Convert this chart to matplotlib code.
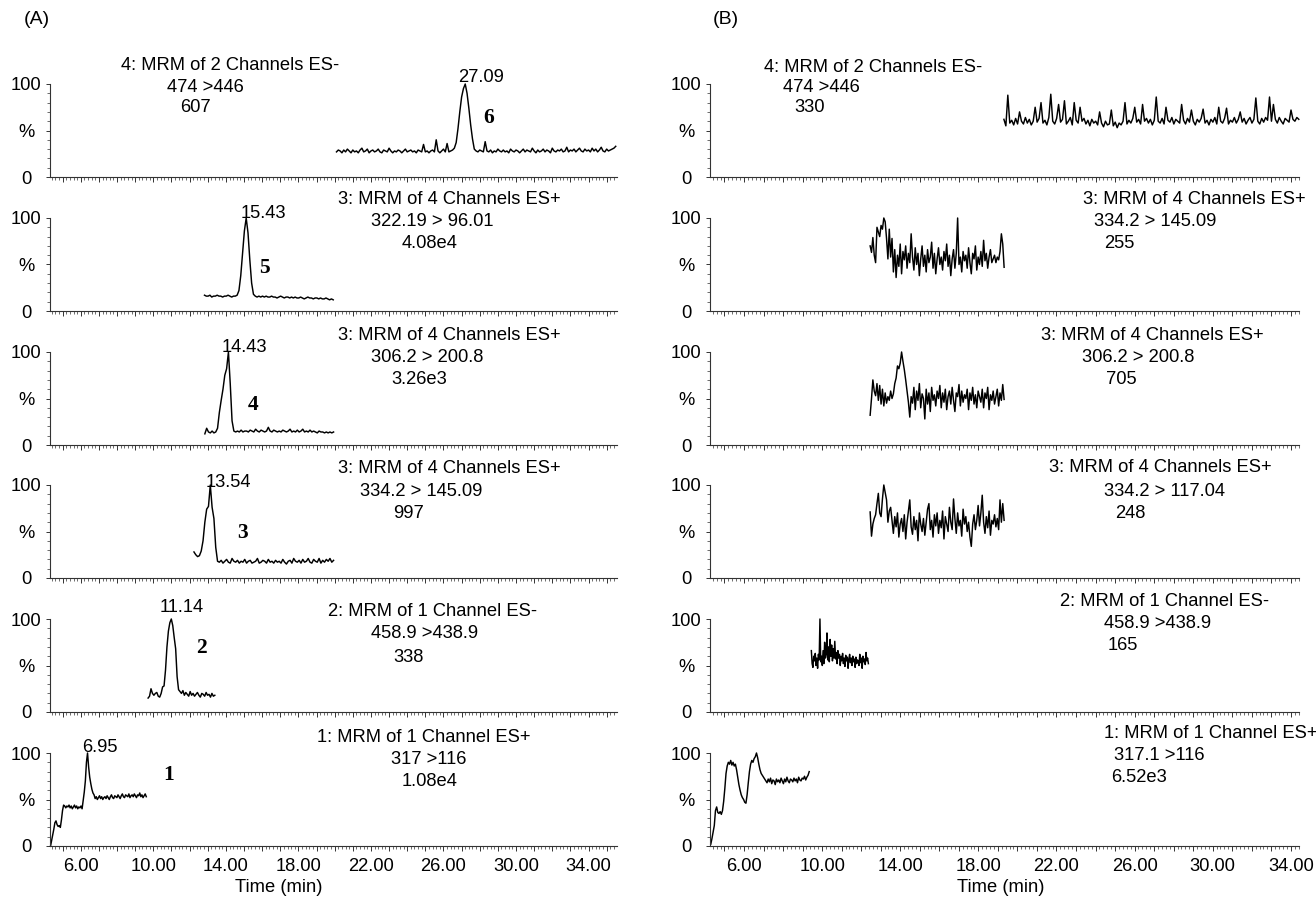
import numpy as np
import matplotlib
matplotlib.use("Agg")
import matplotlib.pyplot as plt
from matplotlib.ticker import MultipleLocator, FixedFormatter, FixedLocator

plt.rcParams['font.family'] = ['Liberation Sans', 'DejaVu Sans']

# ---------------- data: chromatogram traces (relative intensity, %) ----------------
# each trace: start time (min), sampling step (min), intensity values

# column A, top to bottom
A1_T0, A1_DT = 20.1, 0.1
A1_Y = [27, 29, 28, 26, 29, 27, 30, 28, 26, 29, 27, 28, 26, 29, 31, 27, 28, 30, 26, 28,
        29, 27, 28, 30, 27, 26, 29, 28, 27, 31, 28, 26, 28, 27, 29, 28, 26, 28, 30, 27,
        28, 29, 27, 28, 26, 29, 28, 27, 35, 27, 28, 26, 28, 29, 27, 40, 28, 26, 28, 30,
        27, 36, 27, 28, 29, 31, 37, 52, 70, 86, 95, 100, 90, 74, 56, 41, 30, 28, 27, 29,
        28, 27, 38, 28, 27, 29, 26, 28, 27, 30, 28, 27, 29, 27, 28, 26, 30, 28, 27, 29,
        28, 26, 28, 30, 27, 29, 28, 27, 31, 28, 26, 29, 27, 28, 30, 27, 29, 28, 26, 31,
        28, 27, 29, 28, 30, 27, 28, 32, 27, 29, 28, 30, 27, 29, 31, 28, 27, 30, 28, 29,
        27, 31, 28, 30, 27, 29, 32, 28, 27, 30, 28, 29, 30, 31, 33]

A2_T0, A2_DT = 12.82, 0.1
A2_Y = [17, 16, 16, 17, 15, 16, 16, 17, 16, 16, 15, 16, 16, 17, 16, 15, 16, 16, 17,
        22, 38, 62, 86, 100, 84, 55, 30, 18, 16, 15, 16, 15, 16, 15, 16, 15, 15, 16, 15,
        15, 14, 15, 16, 15, 14, 15, 15, 14, 15, 14, 15, 14, 14, 15, 14, 13, 14, 15, 14,
        14, 13, 14, 14, 13, 14, 13, 13, 14, 13, 12, 13, 12]

A3_T0, A3_DT = 12.84, 0.1
A3_Y = [12, 18, 14, 13, 15, 13, 14, 18, 35, 48, 60, 75, 82, 100, 66, 26, 15,
        14, 15, 14, 16, 14, 15, 15, 14, 16, 15, 14, 17, 15, 14, 16, 15, 14, 15, 19, 15,
        14, 16, 15, 14, 15, 14, 16, 15, 14, 15, 17, 14, 15, 14, 16, 14, 15, 17, 14, 15,
        14, 16, 14, 15, 14, 13, 15, 14, 14, 13, 14, 13, 14, 13, 14]

A4_T0, A4_DT = 12.24, 0.1
A4_Y = [28, 25, 23, 24, 29, 40, 60, 74, 77, 100, 76, 64, 33, 18,
        17, 19, 16, 18, 20, 17, 16, 21, 18, 17, 19, 16, 18, 17, 20, 16, 18, 19, 16, 17,
        18, 21, 16, 17, 19, 18, 16, 20, 17, 18, 16, 19, 17, 18, 16, 20, 17, 15, 18, 19,
        16, 21, 18, 17, 19, 16, 20, 17, 18, 21, 17, 16, 20, 18, 17, 21, 16, 19, 17, 20,
        18, 21, 17, 19]

A5_T0, A5_DT = 9.71, 0.08
A5_Y = [15, 17, 25, 20, 18, 20, 21, 17, 16, 20, 27, 28, 45, 70, 87, 96, 100, 93, 80, 68,
        38, 24, 22, 20, 23, 18, 21, 19, 17, 22, 18, 20, 17, 19, 21, 18, 16, 20, 19, 17,
        21, 18, 19, 16, 20, 17, 18]

A6_T0, A6_DT = 4.33, 0.06
A6_Y = [0, 6, 12, 18, 25, 27, 23, 21, 22, 20, 28, 38, 44, 43, 41,
        43, 42, 44, 41, 43, 40, 42, 44, 41, 43, 40, 42, 41, 43, 40,
        49, 58, 70, 90, 100, 85, 74, 67, 61, 57, 55,
        51, 53, 50, 52, 54, 51, 53, 50, 52, 53, 51, 54, 52, 50, 53, 55, 52, 51, 54, 53,
        52, 55, 53, 51, 54, 56, 53, 52, 55, 54, 53, 56, 52, 54, 55, 53, 56, 54, 52, 55,
        54, 57, 53, 55, 52, 54, 56, 53]

# column B, top to bottom
B1_T0, B1_DT = 19.31, 0.1
B1_Y = [62, 55, 88, 58, 61, 56, 63, 57, 70, 60, 57, 64, 58, 62, 56, 60, 75, 59, 63, 80,
        58, 61, 56, 64, 89, 60, 57, 63, 78, 59, 62, 82, 57, 60, 64, 56, 80, 61, 58, 75,
        60, 63, 57, 61, 55, 62, 58, 60, 56, 70, 58, 54, 60, 56, 57, 72, 55, 59, 53, 58,
        56, 60, 80, 57, 61, 58, 63, 75, 59, 62, 57, 78, 60, 63, 58, 62, 56, 61, 86, 60,
        58, 63, 57, 75, 61, 59, 64, 57, 62, 60, 58, 78, 61, 57, 63, 59, 72, 60, 56, 62,
        59, 63, 73, 58, 61, 56, 62, 59, 64, 57, 75, 60, 58, 63, 74, 57, 61, 59, 64, 58,
        62, 70, 59, 63, 57, 61, 64, 58, 62, 85, 60, 57, 63, 59, 64, 61, 86, 60, 78, 62,
        58, 64, 60, 57, 63, 61, 59, 72, 62, 60, 64, 62]

B2_T0, B2_DT = 12.46, 0.07
B2_Y = [70, 63, 79, 60, 52, 90, 85, 80, 92, 88, 100, 96, 78, 56, 88, 58, 78, 42, 66, 36,
        60, 48, 72, 40, 64, 55, 70, 46, 62, 52, 83, 58, 44, 68, 50, 62, 38, 56, 70, 48,
        60, 42, 66, 52, 58, 74, 46, 62, 40, 56, 68, 50, 58, 44, 64, 54, 72, 48, 60, 38,
        56, 66, 46, 62, 100, 50, 58, 42, 64, 54, 60, 46, 68, 52, 40, 62, 56, 70, 44, 58,
        50, 64, 48, 76, 54, 62, 46, 58, 66, 52, 56, 60, 52, 58, 55, 64, 83, 72, 47]

B3_T0, B3_DT = 12.46, 0.07
B3_Y = [32, 50, 70, 58, 53, 66, 48, 64, 44, 60, 42, 56, 45, 52, 48, 58, 50, 55, 66, 72,
        85, 82, 88, 100, 90, 81, 70, 58, 46, 30, 52, 45, 62, 38, 58, 48, 66, 40, 55, 50,
        28, 60, 44, 56, 36, 62, 48, 54, 42, 58, 50, 64, 40, 56, 46, 60, 38, 52, 58, 44,
        62, 48, 36, 56, 52, 65, 42, 58, 46, 54, 50, 60, 38, 56, 48, 62, 44, 54, 40, 58,
        52, 46, 60, 40, 56, 50, 62, 38, 54, 48, 58, 44, 52, 60, 42, 56, 48, 65, 49]

B4_T0, B4_DT = 12.46, 0.07
B4_Y = [71, 45, 58, 64, 68, 80, 91, 70, 66, 85, 100, 92, 84, 60, 72, 76, 62, 48, 66, 55,
        70, 44, 58, 64, 50, 68, 42, 60, 72, 84, 55, 47, 66, 52, 62, 40, 70, 58, 50, 64,
        46, 60, 74, 80, 52, 62, 44, 68, 56, 70, 48, 62, 54, 72, 42, 66, 58, 50, 76, 60,
        52, 85, 64, 48, 70, 56, 62, 45, 74, 58, 66, 50, 60, 44, 34, 58, 68, 52, 62, 78,
        56, 70, 89, 60, 48, 66, 54, 72, 46, 62, 58, 68, 55, 64, 52, 84, 60, 80, 62]

B5_T0, B5_DT = 9.45, 0.04
B5_Y = [66, 52, 48, 60, 55, 63, 50, 58, 47, 62, 56, 100, 54, 60, 50, 66, 52, 75, 58, 62,
        85, 56, 70, 54, 78, 60, 72, 55, 68, 58, 76, 57, 64, 52, 66, 58, 62, 50, 60, 55,
        63, 52, 58, 49, 61, 55, 59, 47, 57, 62, 53, 58, 50, 60, 54, 57, 48, 59, 52, 56,
        55, 50, 62, 53, 58, 47, 60, 54, 57, 51, 64, 55, 58, 52]

B6_T0, B6_DT = 4.30, 0.06
B6_Y = [2, 8, 15, 22, 38, 42, 36, 35, 37, 34, 38, 48, 62, 78, 86, 90, 88, 92, 87, 90,
        86, 88, 82, 74, 66, 60, 55, 52, 50, 47, 46, 55, 68, 80, 88, 92, 90, 94, 96, 100,
        95, 88, 82, 78, 76, 74, 72, 70,
        68, 72, 69, 73, 67, 71, 70, 66, 72, 69, 71, 68, 73, 70, 67, 72, 69, 74, 70, 68,
        72, 71, 69, 73, 70, 72, 68, 74, 71, 70, 73, 72, 75, 71, 74, 76, 80]

# ---------------- text ----------------
A_HEAD = [["4: MRM of 2 Channels ES-", "474 >446", "607"],
          ["3: MRM of 4 Channels ES+", "322.19 > 96.01", "4.08e4"],
          ["3: MRM of 4 Channels ES+", "306.2 > 200.8", "3.26e3"],
          ["3: MRM of 4 Channels ES+", "334.2 > 145.09", "997"],
          ["2: MRM of 1 Channel ES-", "458.9 >438.9", "338"],
          ["1: MRM of 1 Channel ES+", "317 >116", "1.08e4"]]
B_HEAD = [["4: MRM of 2 Channels ES-", "474 >446", "330"],
          ["3: MRM of 4 Channels ES+", "334.2 > 145.09", "255"],
          ["3: MRM of 4 Channels ES+", "306.2 > 200.8", "705"],
          ["3: MRM of 4 Channels ES+", "334.2 > 117.04", "248"],
          ["2: MRM of 1 Channel ES-", "458.9 >438.9", "165"],
          ["1: MRM of 1 Channel ES+", "317.1 >116", "6.52e3"]]
A_PEAK = ["27.09", "15.43", "14.43", "13.54", "11.14", "6.95"]
A_NUM = ["6", "5", "4", "3", "2", "1"]
X_LABELS = [6, 10, 14, 18, 22, 26, 30, 34]

# ---------------- layout (pixels in the 1316x902 picture) ----------------
W, H = 1316, 902
panel_bottom = [177, 311, 445, 578, 712, 846]
panel_h = 93
col_px = [(50, 617), (710, 1299)]
col_xlim = [(4.3, 35.57), (4.26, 34.42)]

# header line positions: (left x, y) per line
A_HEAD_POS = [[(121, 65), (167, 88), (180, 108)],
              [(338, 200), (371, 222), (402, 243)],
              [(338, 336), (371, 357), (391, 380)],
              [(338, 469), (360, 492), (393, 513)],
              [(328, 612), (371, 634), (393, 658)],
              [(317, 738), (391, 760), (402, 782)]]
B_HEAD_POS = [[(764, 67), (783, 88), (794, 108)],
              [(1083, 200), (1094, 222), (1104, 243)],
              [(1041, 335), (1082, 357), (1106, 380)],
              [(1049, 468), (1104, 492), (1115, 513)],
              [(1060, 602), (1104, 623), (1108, 645)],
              [(1104, 734), (1114, 755), (1111, 777)]]
A_PEAK_POS = [(458, 77), (241, 213), (222, 348), (206, 482), (160, 607), (82, 748)]
A_NUM_POS = [(489, 118), (264, 268), (253, 405), (242, 533), (201, 648), (169, 775)]

FS = 13.2


def fx(px):
    return px / W


def fy(py):
    return 1 - py / H


def ftext(x, y, s, **kw):
    kw.setdefault('fontsize', FS)
    kw.setdefault('va', 'center')
    kw.setdefault('ha', 'left')
    fig.text(fx(x), fy(y), s, **kw)


def trace(t0, dt, y):
    y = np.asarray(y, dtype=float)
    return t0 + dt * np.arange(len(y)), y


traces = [
    [(A1_T0, A1_DT, A1_Y), (A2_T0, A2_DT, A2_Y), (A3_T0, A3_DT, A3_Y),
     (A4_T0, A4_DT, A4_Y), (A5_T0, A5_DT, A5_Y), (A6_T0, A6_DT, A6_Y)],
    [(B1_T0, B1_DT, B1_Y), (B2_T0, B2_DT, B2_Y), (B3_T0, B3_DT, B3_Y),
     (B4_T0, B4_DT, B4_Y), (B5_T0, B5_DT, B5_Y), (B6_T0, B6_DT, B6_Y)],
]

fig = plt.figure(figsize=(W / 100, H / 100), dpi=100)

for c in range(2):
    x0, x1 = col_px[c]
    for r in range(6):
        b = panel_bottom[r]
        ax = fig.add_axes([fx(x0), fy(b), (x1 - x0) / W, panel_h / H])
        ax.patch.set_visible(False)
        t, y = trace(*traces[c][r])
        ax.plot(t, y, color='black', lw=1.05, clip_on=False)

        ax.set_xlim(*col_xlim[c])
        ax.set_ylim(0, 100)
        for s in ('top', 'right'):
            ax.spines[s].set_visible(False)
        for s in ('left', 'bottom'):
            ax.spines[s].set_linewidth(0.8)
            ax.spines[s].set_color('#333333')

        ax.set_yticks([0, 50, 100])
        ax.set_yticklabels(['0', '%', '100'])
        ax.yaxis.set_minor_locator(MultipleLocator(10))

        # x: longer tick every minute, labels every 4 min, short ticks every 0.2 min
        major = np.arange(5, 36, 1)
        ax.xaxis.set_major_locator(FixedLocator(major))
        ax.xaxis.set_major_formatter(FixedFormatter(
            [f"{v:.2f}" if v in X_LABELS else "" for v in major]))
        ax.xaxis.set_minor_locator(MultipleLocator(0.2))

        ax.tick_params(which='major', length=3.5, width=0.7, color='#333333',
                       labelsize=FS, direction='out')
        ax.tick_params(which='minor', length=2, width=0.5, color='#333333',
                       direction='out')
        ax.tick_params(axis='y', which='major', length=3)
        ax.tick_params(axis='y', pad=14)
        ax.tick_params(axis='x', pad=5)
        for lab in ax.get_yticklabels():
            lab.set_horizontalalignment('center')
        if r < 5:
            ax.tick_params(axis='x', labelbottom=False)

# headers
for r in range(6):
    for s, (x, y) in zip(A_HEAD[r], A_HEAD_POS[r]):
        ftext(x, y, s)
    for s, (x, y) in zip(B_HEAD[r], B_HEAD_POS[r]):
        ftext(x, y, s)
    ftext(A_PEAK_POS[r][0], A_PEAK_POS[r][1], A_PEAK[r])
    ftext(A_NUM_POS[r][0], A_NUM_POS[r][1], A_NUM[r], ha='center',
          family=['Liberation Serif', 'DejaVu Serif'], fontweight='bold', fontsize=15.5)

ftext(24, 19, "(A)", fontsize=14)
ftext(713, 19, "(B)", fontsize=14)
ftext(279, 887, "Time (min)", ha='center')
ftext(1001, 887, "Time (min)", ha='center')

fig.savefig("out.png", dpi=100)
